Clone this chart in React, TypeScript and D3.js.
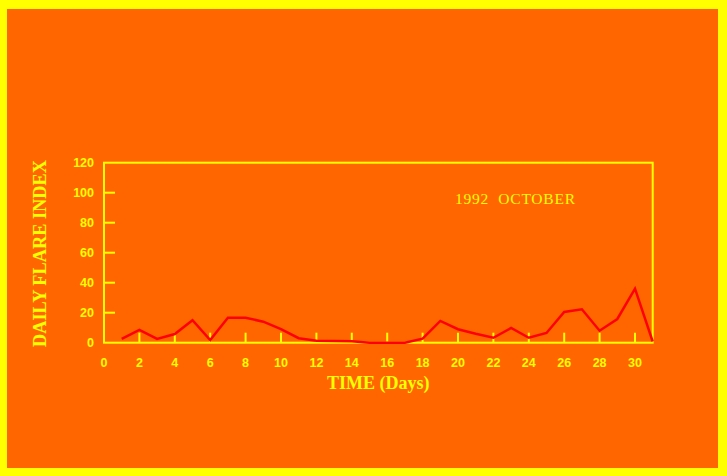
import React from "react";
import * as d3 from "d3";

// Daily flare index, October 1992
const days = [1,2,3,4,5,6,7,8,9,10,11,12,13,14,15,16,17,18,19,20,21,22,23,24,25,26,27,28,29,30,31];
const flareIndex = [2.5,8.5,2.5,5.8,15,1.8,16.7,16.6,14,9,3,1.3,1.2,1,0,0,0,2.7,14.5,9,6,3.3,9.8,3.3,6.5,20.5,22.3,8,15.8,36,0.8];
const xTicks = [0,2,4,6,8,10,12,14,16,18,20,22,24,26,28,30];
const yTicks = [0,20,40,60,80,100,120];
const title = "1992  OCTOBER";

const W = 727;
const H = 476;
const YELLOW = "#FFFF00";
const ORANGE = "#FF6600";
const RED = "#FF0000";

export default function App() {
  const left = 104, right = 652.7, top = 162.7, bottom = 342.7;
  const x = d3.scaleLinear().domain([0, 31]).range([left, right]);
  const y = d3.scaleLinear().domain([0, 120]).range([bottom, top]);
  const line = d3
    .line<number>()
    .x((_, i) => x(days[i]))
    .y((d) => y(d));

  return (
    <div style={{ position: "fixed", left: 0, top: 0 }}>
      <svg width={W} height={H} style={{ display: "block" }}>
        <rect x={0} y={0} width={W} height={H} fill={YELLOW} />
        <rect x={7} y={9} width={711} height={459} fill={ORANGE} />

        {/* frame */}
        <rect
          x={left}
          y={top}
          width={right - left}
          height={bottom - top}
          fill="none"
          stroke={YELLOW}
          strokeWidth={2}
        />

        {/* y ticks inward from the left axis */}
        {yTicks.map((t) => (
          <g key={"y" + t}>
            {t > 0 && t < 120 && (
              <line x1={left} x2={left + 11} y1={y(t)} y2={y(t)} stroke={YELLOW} strokeWidth={2} />
            )}
            <text
              x={left - 10}
              y={y(t)}
              dy="0.36em"
              textAnchor="end"
              fill={YELLOW}
              fontFamily="Liberation Sans, Arial, sans-serif"
              fontWeight="bold"
              fontSize={12.5}
            >
              {t}
            </text>
          </g>
        ))}

        {/* x ticks upward from the bottom axis */}
        {xTicks.map((t) => (
          <g key={"x" + t}>
            {t > 0 && (
              <line x1={x(t)} x2={x(t)} y1={bottom} y2={bottom - 10} stroke={YELLOW} strokeWidth={2} />
            )}
            <text
              x={x(t)}
              y={367}
              textAnchor="middle"
              fill={YELLOW}
              fontFamily="Liberation Sans, Arial, sans-serif"
              fontWeight="bold"
              fontSize={12.5}
            >
              {t}
            </text>
          </g>
        ))}

        {/* data */}
        <path
          d={line(flareIndex) ?? ""}
          fill="none"
          stroke={RED}
          strokeWidth={2.5}
          strokeLinejoin="miter"
        />

        <text
          x={455}
          y={204}
          fill={YELLOW}
          fontFamily="Liberation Serif, Times New Roman, serif"
          fontSize={15.5}
          textLength={120}
          lengthAdjust="spacing"
          style={{ whiteSpace: "pre" }}
        >
          {title}
        </text>

        <text
          x={(left + right) / 2}
          y={388.5}
          textAnchor="middle"
          fill={YELLOW}
          fontFamily="Liberation Serif, Times New Roman, serif"
          fontWeight="bold"
          fontSize={18}
        >
          TIME (Days)
        </text>

        <text
          transform={`translate(46,253.5) rotate(-90)`}
          textAnchor="middle"
          fill={YELLOW}
          fontFamily="Liberation Serif, Times New Roman, serif"
          fontWeight="bold"
          fontSize={18}
          textLength={187}
          lengthAdjust="spacingAndGlyphs"
        >
          DAILY FLARE INDEX
        </text>
      </svg>
    </div>
  );
}
